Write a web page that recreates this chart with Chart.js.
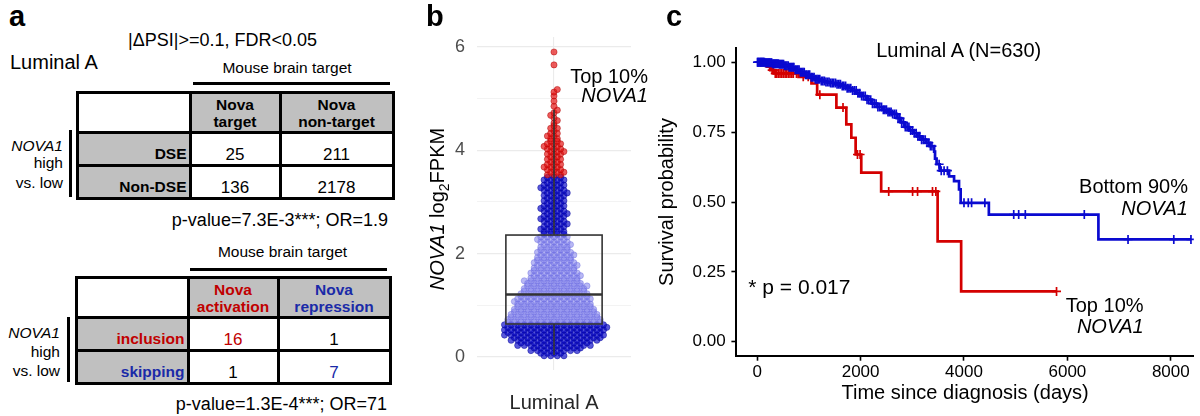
<!DOCTYPE html>
<html><head><meta charset="utf-8">
<script src="https://cdn.jsdelivr.net/npm/chart.js@4.4.1/dist/chart.umd.min.js"></script>
<style>
html,body{margin:0;padding:0;background:#fff;}
body{width:1200px;height:416px;overflow:hidden;position:relative;font-family:"Liberation Sans",Arial,sans-serif;color:#000;}
.t{position:absolute;white-space:nowrap;}
.r{position:absolute;background:#000;}
canvas{position:absolute;top:0;}
</style></head><body>
<canvas id="cb" width="240" height="416" style="left:400px"></canvas>
<canvas id="cc" width="560" height="416" style="left:640px"></canvas>
<script>
// ---------------- DATA ----------------
// Panel a: contingency tables
const t1ColLabels = [["Nova","target"],["Nova","non-target"]];
const t1RowLabels = ["DSE","Non-DSE"];
const t1Values = [[25,211],[136,2178]];
const t2ColLabels = [["Nova","activation"],["Nova","repression"]];
const t2RowLabels = ["inclusion","skipping"];
const t2Values = [[16,1],[1,7]];

// Panel b: NOVA1 log2FPKM distribution (bin centre, number of samples)
const groupLabel = "Luminal A";
const swarmLevels = [0.05,0.15,0.25,0.35,0.45,0.55,0.65,0.75,0.85,0.95,1.05,1.15,1.25,1.35,1.45,1.55,1.65,1.75,1.85,1.95,2.05,2.15,2.25,2.35,2.45,2.55,2.65,2.75,2.85,2.95,3.05,3.15,3.25,3.35,3.45,3.55,3.65,3.75,3.85,3.95,4.05,4.15,4.25,4.35,4.45,4.55,4.65,4.75,4.85,4.95,5.05,5.15,5.65,5.9];
const swarmCounts = [8,16,23,28,31,32,31,29,27,25,24,23,21,20,18,16,15,14,13,12,11,10,10,9,8,8,8,8,8,7,7,8,8,7,7,6,6,5,5,6,6,5,4,3,3,2,2,2,1,1,1,2,1,1];
const boxStats = [0.04, 0.64, 1.21, 2.36, 4.78]; // lower whisker, Q1, median, Q3, upper whisker
const topTenCut = 3.5;
const yTicksB = [0,1,2,3,4,5,6];

// Panel c: Kaplan-Meier curves
const redTimes = [200,260,330,800,1050,1160,1532,1724,1821,1904,2013,2398,3490,3945];
const redSurv  = [0.984,0.972,0.960,0.948,0.924,0.884,0.838,0.778,0.730,0.670,0.605,0.538,0.359,0.180];
const redCensor = [240,290,314,350,378,410,442,475,506,540,571,605,635,670,699,760,891,987,1212,1660,1940,1990,2544,3006,3102,3391,3455,5790];
const blueTimes = [150,300,420,520,620,720,820,920,1020,1120,1220,1320,1420,1520,1620,1720,1820,1920,2020,2120,2220,2320,2420,2520,2620,2700,2780,2860,2940,3020,3100,3180,3260,3340,3423,3440,3470,3530,3712,3808,3904,3936,4481,6600];
const blueSurv  = [0.998,0.995,0.993,0.988,0.982,0.973,0.964,0.955,0.946,0.939,0.933,0.929,0.926,0.921,0.915,0.907,0.899,0.889,0.879,0.866,0.852,0.840,0.830,0.822,0.815,0.800,0.785,0.768,0.756,0.746,0.735,0.723,0.712,0.700,0.680,0.655,0.635,0.612,0.592,0.575,0.545,0.497,0.455,0.366];
const blueCensor = [5,15,25,40,55,65,75,90,100,115,125,140,155,170,185,200,215,230,245,265,280,300,320,335,355,370,390,410,430,450,470,490,510,530,550,575,600,620,645,665,690,710,735,760,785,810,835,860,885,910,935,960,990,1015,1045,1070,1100,1125,1155,1180,1210,1240,1270,1300,1330,1360,1390,1420,1450,1480,1515,1545,1580,1610,1645,1675,1710,1740,1775,1810,1845,1880,1915,1950,1985,2020,2055,2090,2125,2160,2195,2230,2265,2300,2335,2370,2405,2440,2470,2500,2530,2560,2590,2620,2655,2690,2725,2760,2795,2830,2865,2900,2935,2970,3005,3040,3075,3110,3145,3180,3215,3250,3285,3320,3350,3380,3519,3560,3615,3679,4000,4083,4147,4404,4962,5058,5186,6327,7173,8058,8390];
const xTicksC = [0,2000,4000,6000,8000];
const yTicksC = [0,0.25,0.5,0.75,1];

// ---------------- STYLE ----------------
const RED = '#d40000', BLUE = '#0a0ad0';
const TRED = '#c00000', TBLUE = '#1a2aa8';
Chart.defaults.font.family = '"Liberation Sans", Arial, sans-serif';

// ---------------- HTML helpers ----------------
function T(html, x, base, size, opt = {}) {
  const d = document.createElement('div');
  d.className = 't'; d.innerHTML = html;
  d.style.fontSize = size + 'px'; d.style.lineHeight = size + 'px';
  d.style.top = (base - 0.8465 * size) + 'px'; d.style.left = x + 'px';
  if (opt.bold) d.style.fontWeight = 'bold';
  if (opt.italic) d.style.fontStyle = 'italic';
  if (opt.color) d.style.color = opt.color;
  const tx = opt.align === 'right' ? '-100%' : opt.align === 'center' ? '-50%' : '0';
  d.style.transform = 'translateX(' + tx + ')';
  document.body.appendChild(d); return d;
}
function R(x, y, w, h, c) {
  const d = document.createElement('div'); d.className = 'r';
  d.style.left = x + 'px'; d.style.top = y + 'px'; d.style.width = w + 'px'; d.style.height = h + 'px';
  if (c) d.style.background = c;
  document.body.appendChild(d);
}
function table(g, colLabels, rowLabels, values, st) {
  const xs = g.xs, ys = g.ys;
  R(xs[1], ys[0], xs[3] - xs[1], ys[1] - ys[0], '#c0c0c0');
  R(xs[0], ys[1], xs[1] - xs[0], ys[3] - ys[1], '#c0c0c0');
  xs.forEach(x => R(x - 1.5, ys[0] - 1.5, 3, ys[3] - ys[0] + 3));
  ys.forEach(y => R(xs[0] - 1.5, y - 1.5, xs[3] - xs[0] + 3, 3));
  colLabels.forEach((lab, j) => {
    const cx = (xs[j + 1] + xs[j + 2]) / 2;
    T(lab[0], cx, ys[0] + 18.5, 15.5, {bold: true, align: 'center', color: st.col[j]});
    T(lab[1], cx, ys[0] + 35.3, 15.5, {bold: true, align: 'center', color: st.col[j]});
  });
  rowLabels.forEach((lab, i) => {
    T(lab, xs[1] - 3.5, ys[i + 2] - 5.5, 15.5, {bold: true, align: 'right', color: st.row[i]});
    values[i].forEach((v, j) => {
      T(String(v), (xs[j + 1] + xs[j + 2]) / 2, ys[i + 2] - 5, 17, {align: 'center', color: st.val[i][j]});
    });
  });
}

// ---------------- Panel a ----------------
T('a', 9, 26.7, 29, {bold: true});
T('|ΔPSI|&gt;=0.1, FDR&lt;0.05', 128, 46.7, 18);
T('Luminal A', 10, 69.3, 20);
T('Mouse brain target', 287, 72.7, 15.5, {align: 'center'});
R(193, 82, 197, 2.5);
table({xs: [77, 190, 280, 393], ys: [92, 132, 165, 198]}, t1ColLabels, t1RowLabels, t1Values,
  {col: ['#000', '#000'], row: ['#000', '#000'], val: [['#000', '#000'], ['#000', '#000']]});
R(69, 130, 2.5, 67);
T('<i>NOVA1</i>', 63, 150.7, 15.5, {align: 'right'});
T('high', 63, 168.3, 15.5, {align: 'right'});
T('vs. low', 63, 187.7, 15.5, {align: 'right'});
T('p-value=7.3E-3***; OR=1.9', 388, 226, 18, {align: 'right'});

T('Mouse brain target', 282.5, 257.3, 15.5, {align: 'center'});
R(190, 268, 197, 2.5);
table({xs: [76, 188, 278, 390], ys: [277, 317, 350, 383]}, t2ColLabels, t2RowLabels, t2Values,
  {col: [TRED, TBLUE], row: [TRED, TBLUE], val: [[TRED, '#000'], ['#000', TBLUE]]});
R(67, 317, 2.5, 65);
T('<i>NOVA1</i>', 60, 338.3, 15.5, {align: 'right'});
T('high', 60, 356.7, 15.5, {align: 'right'});
T('vs. low', 60, 376, 15.5, {align: 'right'});
T('p-value=1.3E-4***; OR=71', 387, 410, 18, {align: 'right'});

// ---------------- Panel b ----------------
T('b', 426, 26.7, 29, {bold: true});
const yt = document.createElement('div');
yt.className = 't';
yt.style.cssText = 'left:438px;top:209px;font-size:20px;line-height:20px;transform:translate(-50%,-50%) rotate(-90deg);';
yt.innerHTML = '<i>NOVA1</i> log<span style="font-size:14px;position:relative;top:5px">2</span>FPKM';
document.body.appendChild(yt);
T('Top 10%', 648, 83.3, 20, {align: 'right'});
T('<i>NOVA1</i>', 648, 101.7, 20, {align: 'right'});

const boxHalf = 0.375;
const boxPlugin = {
  id: 'boxplot',
  afterDatasetsDraw(chart) {
    const {ctx, scales: {x, y}} = chart;
    const [lo, q1, med, q3, hi] = boxStats;
    const xl = x.getPixelForValue(-boxHalf), xr = x.getPixelForValue(boxHalf), xc = x.getPixelForValue(0);
    ctx.save();
    ctx.strokeStyle = '#333'; ctx.lineWidth = 1.6;
    ctx.beginPath();
    ctx.moveTo(xc, y.getPixelForValue(q3)); ctx.lineTo(xc, y.getPixelForValue(hi));
    ctx.moveTo(xc, y.getPixelForValue(q1)); ctx.lineTo(xc, y.getPixelForValue(lo));
    ctx.stroke();
    ctx.strokeRect(xl, y.getPixelForValue(q3), xr - xl, y.getPixelForValue(q1) - y.getPixelForValue(q3));
    ctx.lineWidth = 2.4;
    ctx.beginPath();
    ctx.moveTo(xl, y.getPixelForValue(med)); ctx.lineTo(xr, y.getPixelForValue(med));
    ctx.stroke();
    ctx.restore();
  }
};
const chartB = new Chart(document.getElementById('cb'), {
  type: 'scatter',
  data: {datasets: [
    {data: [], backgroundColor: 'rgba(228,15,15,0.68)', borderColor: 'rgba(170,0,0,0.65)', borderWidth: 0.7, pointRadius: 3.1},
    {data: [], backgroundColor: 'rgba(125,125,235,0.55)', borderColor: 'rgba(100,100,220,0.55)', borderWidth: 0.7, pointRadius: 3.1},
    {data: [], backgroundColor: 'rgba(10,10,200,0.68)', borderColor: 'rgba(0,0,150,0.65)', borderWidth: 0.7, pointRadius: 3.1}
  ]},
  options: {
    responsive: false, animation: false, events: [],
    plugins: {legend: {display: false}, tooltip: {enabled: false}},
    layout: {padding: {left: 0, right: 9, top: 37, bottom: 0}},
    scales: {
      x: {type: 'linear', min: -0.6, max: 0.6,
        afterFit: s => { s.height = 46; },
        afterBuildTicks: s => { s.ticks = [{value: 0}]; },
        ticks: {callback: () => groupLabel, padding: 21, color: '#262626', font: {size: 20}, maxRotation: 0, autoSkip: false},
        grid: {color: '#ebebeb', lineWidth: 1.1, drawTicks: false},
        border: {display: false}},
      y: {type: 'linear', min: -0.25, max: 6.19,
        afterFit: s => { s.width = 77; },
        afterBuildTicks: s => { s.ticks = yTicksB.map(v => ({value: v})); },
        ticks: {callback: v => (v % 2 === 0 ? String(v) : ''), padding: 12, color: '#4d4d4d', font: {size: 18}, autoSkip: false},
        grid: {color: '#ebebeb', lineWidth: c => (c.tick && c.tick.value % 2 === 0 ? 1.2 : 0.6), drawTicks: false},
        border: {display: false}}
    }
  },
  plugins: [boxPlugin]
});
(function buildSwarm() {
  const xs = chartB.scales.x;
  const unitPerPx = (xs.max - xs.min) / xs.width;
  const d = 6.6 * unitPerPx;
  const top = [], light = [], dark = [];
  swarmLevels.forEach((v, i) => {
    const c = swarmCounts[i];
    const rows = c === 1 ? [[v, 1, 0]] : [[v - 0.025, Math.ceil(c / 2), 0], [v + 0.025, Math.floor(c / 2), 1]];
    rows.forEach(([y, n, r]) => {
      const shift = (r === 1 && n === Math.ceil(c / 2)) ? (i % 2 ? 1 : -1) * d / 2 : 0;
      for (let k = 0; k < n; k++) {
        const p = {x: (k - (n - 1) / 2) * d + shift, y: y};
        if (y >= topTenCut) top.push(p);
        else if (y >= boxStats[1] && y <= boxStats[3]) light.push(p);
        else dark.push(p);
      }
    });
  });
  chartB.data.datasets[0].data = top;
  chartB.data.datasets[1].data = light;
  chartB.data.datasets[2].data = dark;
  chartB.update();
})();

// ---------------- Panel c ----------------
T('c', 666, 26.7, 29, {bold: true});
T('Luminal A (N=630)', 958.7, 56.7, 20, {align: 'center'});
T('* p = 0.017', 748.3, 294, 21);
T('Bottom 90%', 1188, 193.3, 20, {align: 'right'});
T('<i>NOVA1</i>', 1188, 215, 20, {align: 'right'});
T('Top 10%', 1143.6, 311.7, 20, {align: 'right'});
T('<i>NOVA1</i>', 1143.6, 333.3, 20, {align: 'right'});

function survAt(times, surv, t) {
  let s = 1;
  for (let i = 0; i < times.length; i++) if (times[i] <= t) s = surv[i];
  return s;
}
function kmLine(times, surv, censor) {
  const pts = [{x: 0, y: 1}];
  times.forEach((t, i) => pts.push({x: t, y: surv[i]}));
  const end = Math.max(...censor);
  pts.push({x: end, y: survAt(times, surv, end)});
  return pts;
}
function kmCensor(times, surv, censor) {
  return censor.map(t => ({x: t, y: survAt(times, surv, t)}));
}
const axisCommon = {
  grid: {drawOnChartArea: false, drawTicks: true, tickLength: 5, tickColor: '#000', tickWidth: 1.6},
  border: {display: true, color: '#000', width: 2}
};
new Chart(document.getElementById('cc'), {
  type: 'scatter',
  data: {datasets: [
    {data: kmLine(blueTimes, blueSurv, blueCensor), showLine: true, stepped: true, borderColor: BLUE, borderWidth: 2.7, pointRadius: 0, fill: false, order: 1},
    {data: kmCensor(blueTimes, blueSurv, blueCensor), showLine: false, pointStyle: 'cross', pointRadius: 4.5, borderColor: BLUE, backgroundColor: BLUE, borderWidth: 1.7, order: 0},
    {data: kmLine(redTimes, redSurv, redCensor), showLine: true, stepped: true, borderColor: RED, borderWidth: 2.7, pointRadius: 0, fill: false, order: 3},
    {data: kmCensor(redTimes, redSurv, redCensor), showLine: false, pointStyle: 'cross', pointRadius: 4.5, borderColor: RED, backgroundColor: RED, borderWidth: 1.7, order: 2}
  ]},
  options: {
    responsive: false, animation: false, events: [],
    plugins: {legend: {display: false}, tooltip: {enabled: false}},
    layout: {padding: {left: 0, right: 1, top: 48.3, bottom: 0}},
    scales: {
      x: Object.assign({type: 'linear', min: -402, max: 8445,
        afterFit: s => { s.height = 60.3; },
        afterBuildTicks: s => { s.ticks = xTicksC.map(v => ({value: v})); },
        ticks: {callback: v => String(v), color: '#000', font: {size: 17}, padding: 1, maxRotation: 0, autoSkip: false},
        title: {display: true, text: 'Time since diagnosis (days)', color: '#000', font: {size: 20, lineHeight: 1.2}, padding: {top: 0, bottom: 11}}
      }, axisCommon),
      y: Object.assign({type: 'linear', min: -0.05, max: 1.05,
        afterFit: s => { s.width = 96.4; },
        afterBuildTicks: s => { s.ticks = yTicksC.map(v => ({value: v})); },
        ticks: {callback: v => v.toFixed(2), color: '#000', font: {size: 17}, padding: 5.7, autoSkip: false},
        title: {display: true, text: 'Survival probability', color: '#000', font: {size: 20, lineHeight: 1.2}, padding: {top: 15.6, bottom: 0}}
      }, axisCommon)
    }
  }
});
</script>
</body></html>
